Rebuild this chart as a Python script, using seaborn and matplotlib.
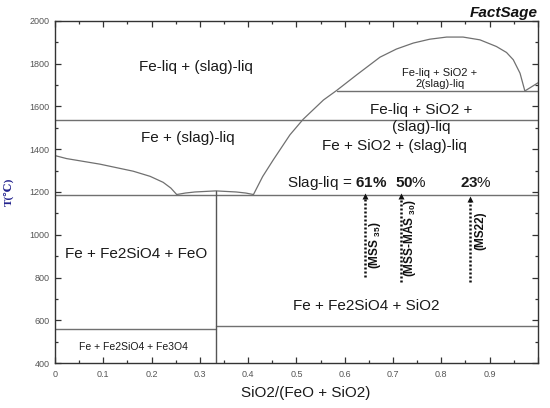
import matplotlib
matplotlib.use("Agg")
import matplotlib.pyplot as plt
import seaborn as sns
import pandas as pd
from matplotlib.ticker import MultipleLocator

sns.set_theme(style="ticks")
plt.rcParams['font.family'] = ['Liberation Sans', 'DejaVu Sans']
plt.rcParams['mathtext.fontset'] = 'custom'
plt.rcParams['mathtext.rm'] = 'Liberation Sans'
plt.rcParams['mathtext.bf'] = 'Liberation Sans:bold'

# ---- data ----
liq_left_x = [0.0, 0.024, 0.093, 0.162, 0.197, 0.224, 0.240, 0.252]
liq_left_T = [1370, 1356, 1330, 1297, 1273, 1245, 1218, 1188]

fayalite_x = [0.252, 0.27, 0.29, 0.333, 0.375, 0.395, 0.411]
fayalite_T = [1188, 1195, 1200, 1205, 1200, 1195, 1188]

liq_right_x = [0.411, 0.430, 0.452, 0.4865, 0.514, 0.556, 0.583, 0.6245, 0.673, 0.707,
               0.742, 0.776, 0.811, 0.845, 0.88, 0.914, 0.935, 0.949, 0.963, 0.973]
liq_right_T = [1188, 1272, 1350, 1467, 1540, 1630, 1674, 1747, 1830, 1868,
               1896, 1914, 1924, 1924, 1911, 1880, 1852, 1818, 1755, 1672]

monotectic_x = [0.973, 1.0]
monotectic_T = [1672, 1710]

# isotherms: temperature, x start, x end
iso_T = [1538, 1672, 1188, 560, 573]
iso_x0 = [0.0, 0.583, 0.0, 0.0, 0.333]
iso_x1 = [1.0, 1.0, 1.0, 0.333, 1.0]

# fayalite composition line
fay_x = [0.333, 0.333]
fay_T = [400, 1205]

# measured samples (arrows)
sample_x = [0.642, 0.716, 0.859]
sample_T0 = [804, 780, 780]
sample_T1 = [1190, 1190, 1174]
sample_labels = [r"(MSS $_{\mathbf{35}}$)", r"(MSS-MAS $_{\mathbf{30}}$)", "(MS22)"]
slag_pct = ["61", "50", "23"]

x_ticks = [0, 0.1, 0.2, 0.3, 0.4, 0.5, 0.6, 0.7, 0.8, 0.9, 1.0]
x_ticklabels = ["0", "0.1", "0.2", "0.3", "0.4", "0.5", "0.6", "0.7", "0.8", "0.9", ""]
y_ticks = [400, 600, 800, 1000, 1200, 1400, 1600, 1800, 2000]

# ---- figure ----
fig = plt.figure(figsize=(5.5, 4.08), dpi=100)
ax = fig.add_axes([0.1, 0.11, 0.878, 0.839])

lc = '#707070'
for cx, cT in [(liq_left_x, liq_left_T), (fayalite_x, fayalite_T),
               (liq_right_x, liq_right_T), (monotectic_x, monotectic_T)]:
    df = pd.DataFrame({"x": cx, "T": cT})
    sns.lineplot(data=df, x="x", y="T", sort=False, estimator=None,
                 color=lc, lw=0.9, ax=ax)

for T, a, b in zip(iso_T, iso_x0, iso_x1):
    df = pd.DataFrame({"x": [a, b], "T": [T, T]})
    sns.lineplot(data=df, x="x", y="T", sort=False, estimator=None,
                 color=lc, lw=1.0, ax=ax)

sns.lineplot(data=pd.DataFrame({"x": fay_x, "T": fay_T}), x="x", y="T",
             sort=False, estimator=None, color='#555555', lw=1.0, ax=ax)

for xs, t0, t1 in zip(sample_x, sample_T0, sample_T1):
    ax.plot([xs, xs], [t0, t1 - 12], color='#111111', lw=1.8,
            linestyle=(0, (0.8, 0.8)))
    ax.plot([xs], [t1 - 8], marker='^', color='#111111', ms=4.5, mec='none')

# sample labels
lab_pos = [(0.662, 952), (0.735, 985), (0.881, 1017)]
for (lx, ly), s in zip(lab_pos, sample_labels):
    ax.text(lx, ly, s, rotation=90, ha='center', va='center',
            fontsize=8.5, fontweight='bold', color='#111111')

# region labels
tc = '#1a1a1a'
ax.text(0.292, 1785, "Fe-liq + (slag)-liq", ha='center', va='center', fontsize=11, color=tc)
ax.text(0.276, 1453, "Fe + (slag)-liq", ha='center', va='center', fontsize=11, color=tc)
ax.text(0.797, 1729, "Fe-liq + SiO2 +\n2(slag)-liq", ha='center', va='center',
        fontsize=8, color=tc, linespacing=1.15)
ax.text(0.759, 1543, "Fe-liq + SiO2 +\n(slag)-liq", ha='center', va='center',
        fontsize=11, color=tc, linespacing=1.2)
ax.text(0.703, 1415, "Fe + SiO2 + (slag)-liq", ha='center', va='center', fontsize=11, color=tc)
ax.text(0.167, 910, "Fe + Fe2SiO4 + FeO", ha='center', va='center', fontsize=11, color=tc)
ax.text(0.162, 476, "Fe + Fe2SiO4 + Fe3O4", ha='center', va='center', fontsize=7.5, color=tc)
ax.text(0.645, 667, "Fe + Fe2SiO4 + SiO2", ha='center', va='center', fontsize=11, color=tc)

# slag-liquid fractions
ax.text(0.480, 1242, r"Slag-liq = $\mathbf{%s\%%}$" % slag_pct[0], ha='left', va='center',
        fontsize=11, color=tc)
ax.text(0.704, 1242, r"$\mathbf{%s}$%%" % slag_pct[1], ha='left', va='center',
        fontsize=11, color=tc)
ax.text(0.8385, 1242, r"$\mathbf{%s}$%%" % slag_pct[2], ha='left', va='center',
        fontsize=11, color=tc)

# axes styling
ax.set_xlim(0, 1)
ax.set_ylim(400, 2000)
ax.set_xticks(x_ticks)
ax.set_xticklabels(x_ticklabels)
ax.set_yticks(y_ticks)
ax.xaxis.set_minor_locator(MultipleLocator(0.05))
ax.yaxis.set_minor_locator(MultipleLocator(100))
ax.tick_params(which='both', direction='in', top=True, right=True,
               color='#333333', width=0.9)
ax.tick_params(which='major', length=4, labelsize=6.5, labelcolor='#555555')
ax.tick_params(which='minor', length=2)
ax.tick_params(axis='x', pad=5)
ax.tick_params(axis='y', pad=4)
for sp in ax.spines.values():
    sp.set_color('#333333')
    sp.set_linewidth(1.0)

ax.set_ylabel("")
ax.set_xlabel("SiO2/(FeO + SiO2)", fontsize=11, color='#1a1a1a')
ax.xaxis.set_label_coords(0.52, -0.066)

fig.text(9 / 550, 1 - 192 / 408, "T(\u2103)", rotation=90, ha='center', va='center',
         fontsize=8, fontweight='bold', color='#23238e',
         family=['Liberation Serif', 'DejaVu Serif'])
fig.text(538 / 550, 1 - 12.5 / 408, "FactSage", ha='right', va='center',
         fontsize=11, fontweight='bold', fontstyle='italic', color='#111111')

fig.savefig("out.png", dpi=100)
